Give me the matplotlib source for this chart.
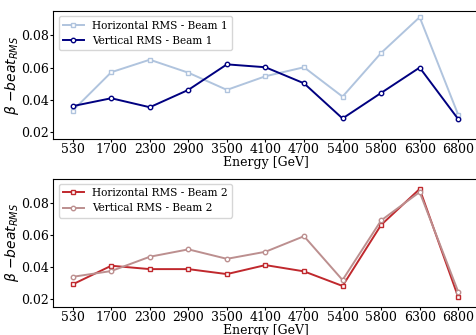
import matplotlib
matplotlib.use("Agg")
import matplotlib.pyplot as plt
import numpy as np

energies = ["530", "1700", "2300", "2900", "3500", "4100", "4700", "5400", "5800", "6300", "6800"]

b1_horizontal = [0.0332, 0.0571, 0.0649, 0.0568, 0.0461, 0.0546, 0.0602, 0.0419, 0.0691, 0.0914, 0.0306]
b1_vertical = [0.0360, 0.0409, 0.0353, 0.0461, 0.0620, 0.0602, 0.0502, 0.0283, 0.0442, 0.0600, 0.0279]

b2_horizontal = [0.0293, 0.0409, 0.0388, 0.0388, 0.0357, 0.0413, 0.0374, 0.0283, 0.0663, 0.0887, 0.0214]
b2_vertical = [0.0340, 0.0376, 0.0465, 0.0511, 0.0452, 0.0496, 0.0593, 0.0320, 0.0691, 0.0868, 0.0247]

plt.rcParams['font.family'] = 'DejaVu Serif'
plt.rcParams['mathtext.fontset'] = 'dejavusans'

fig = plt.figure(figsize=(4.77, 3.35), dpi=100)
ax1 = fig.add_axes([0.112, 0.585, 0.889, 0.382])
ax2 = fig.add_axes([0.112, 0.085, 0.889, 0.382])

x = np.arange(len(energies))

def draw(ax, s1, s2, c1, c2, m1, m2, l1, l2):
    ax.plot(x, s1, color=c1, marker=m1, markersize=3.2, markerfacecolor='white',
            markeredgewidth=1.0, lw=1.4, label=l1)
    ax.plot(x, s2, color=c2, marker=m2, markersize=3.2, markerfacecolor='white',
            markeredgewidth=1.0, lw=1.4, label=l2)
    ax.set_xticks(x)
    ax.set_xticklabels(energies)
    ax.set_xlim(-0.5, 10.5)
    ax.set_ylim(0.0155, 0.0952)
    ax.set_yticks([0.02, 0.04, 0.06, 0.08])
    ax.tick_params(labelsize=9, length=2, width=0.8, pad=1.2)
    ax.set_xlabel('Energy [GeV]', fontsize=9, labelpad=0)
    ax.set_ylabel(r'$\beta$ $-beat_{RMS}$', fontsize=10, labelpad=0)
    ax.legend(loc='upper left', fontsize=7.6, handlelength=2, borderaxespad=0.5)

draw(ax1, b1_horizontal, b1_vertical, 'lightsteelblue', 'navy', 's', 'o',
     'Horizontal RMS - Beam 1', 'Vertical RMS - Beam 1')
draw(ax2, b2_horizontal, b2_vertical, '#c0282d', 'rosybrown', 's', 'o',
     'Horizontal RMS - Beam 2', 'Vertical RMS - Beam 2')

fig.savefig('out.png', dpi=100)
